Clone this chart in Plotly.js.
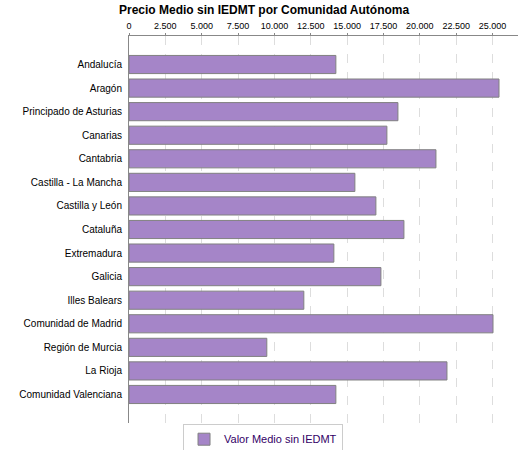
<!DOCTYPE html>
<html>
<head>
<meta charset="utf-8">
<script src="https://cdn.plot.ly/plotly-3.0.1.min.js"></script>
<style>
  html, body { margin: 0; padding: 0; background: #fff; }
  #chart { width: 525px; height: 450px; }
</style>
</head>
<body>
<div id="chart"></div>
<script>
// comunidades, in the order they are drawn from top to bottom
var comunidades = [
  'Andalucía', 'Aragón', 'Principado de Asturias', 'Canarias', 'Cantabria',
  'Castilla - La Mancha', 'Castilla y León', 'Cataluña', 'Extremadura', 'Galicia',
  'Illes Balears', 'Comunidad de Madrid', 'Región de Murcia', 'La Rioja',
  'Comunidad Valenciana'
];

// precio medio sin IEDMT (euros)
var precioMedio = [
  14225, 25444, 18493, 17735, 21108,
  15533, 16978, 18906, 14088, 17323,
  12023, 25031, 9477, 21865,
  14225
];

var serieNombre = 'Valor Medio sin IEDMT';
var tituloGrafico = 'Precio Medio sin IEDMT por Comunidad Autónoma';

var trace = {
  type: 'bar',
  orientation: 'h',
  x: precioMedio,
  y: comunidades,
  name: serieNombre,
  showlegend: true,
  marker: {
    color: '#a585c8',
    line: { color: '#808080', width: 1 }
  },
  hoverinfo: 'x+y'
};

var layout = {
  width: 525,
  height: 450,
  separators: ',.',
  paper_bgcolor: '#ffffff',
  plot_bgcolor: '#ffffff',
  font: { family: 'Liberation Sans, Arial, sans-serif', color: '#000000' },
  title: {
    text: tituloGrafico,
    font: { size: 12, weight: 'bold', color: '#000000' },
    x: 0.503,
    xref: 'container',
    xanchor: 'center',
    y: 0.978,
    yref: 'container',
    yanchor: 'middle'
  },
  margin: { l: 129, r: 7, t: 36, b: 27, pad: 0 },
  bargap: 0.23,
  xaxis: {
    side: 'top',
    range: [0, 26750],
    dtick: 2500,
    tick0: 0,
    tickformat: ',d',
    ticks: 'outside',
    ticklen: 2,
    tickcolor: '#888888',
    tickfont: { size: 9, color: '#000000' },
    showline: true,
    linecolor: '#888888',
    linewidth: 1,
    showgrid: true,
    gridcolor: '#dddddd',
    griddash: 'dash',
    gridwidth: 1,
    zeroline: false,
    fixedrange: true
  },
  yaxis: {
    type: 'category',
    range: [15.21, -1.21],
    showline: true,
    linecolor: '#888888',
    linewidth: 1,
    ticks: '',
    ticklabelstandoff: 4,
    tickfont: { size: 10, color: '#000000' },
    showgrid: false,
    zeroline: false,
    fixedrange: true
  },
  showlegend: true,
  legend: {
    orientation: 'h',
    xref: 'container',
    yref: 'container',
    x: 0.501,
    xanchor: 'center',
    y: 0.024,
    yanchor: 'middle',
    bordercolor: '#cccccc',
    borderwidth: 1,
    bgcolor: '#ffffff',
    font: { size: 11, color: '#330066' },
    itemwidth: 30
  }
};

Plotly.newPlot('chart', [trace], layout, { displayModeBar: false, staticPlot: true });
</script>
</body>
</html>
